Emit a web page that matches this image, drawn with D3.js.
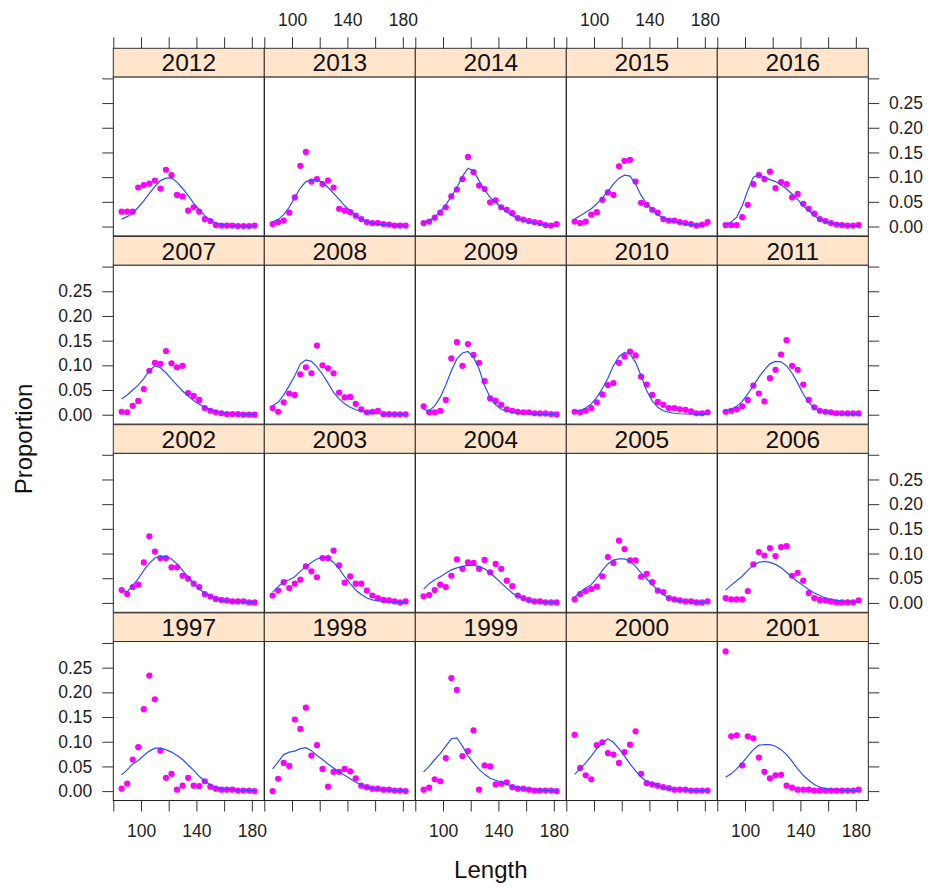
<!DOCTYPE html>
<html>
<head>
<meta charset="utf-8">
<script src="https://cdn.jsdelivr.net/npm/d3@7"></script>
<style>
  html, body { margin: 0; padding: 0; background: #fff; }
  svg { display: block; }
  text { font-family: "Liberation Sans", Arial, Helvetica, sans-serif; }
</style>
</head>
<body>
<svg id="chart" width="930" height="889"></svg>
<script>
// Length bins (mid-points, cm)
const lengths = [86, 90, 94, 98, 102, 106, 110, 114, 118, 122, 126, 130, 134,
                 138, 142, 146, 150, 154, 158, 162, 166, 170, 174, 178, 182];

// Panel order, top row first
const panelRows = [
  [2012, 2013, 2014, 2015, 2016],
  [2007, 2008, 2009, 2010, 2011],
  [2002, 2003, 2004, 2005, 2006],
  [1997, 1998, 1999, 2000, 2001]
];

const xTicks = [80, 100, 120, 140, 160, 180];
const xLabelled = [100, 140, 180];
const yTicks = [0, 0.05, 0.10, 0.15, 0.20, 0.25, 0.30];
const yLabelled = [0, 0.05, 0.10, 0.15, 0.20, 0.25];

// Observed proportions at length
const obs1997 = [0.005,0.015,0.064,0.089,0.166,0.234,0.186,0.082,0.027,0.035,0.003,0.011,0.027,0.011,0.010,0.020,0.009,0.005,0.003,0.003,0.003,0.001,0.001,0.001,0.000];
const obs1998 = [0.000,0.025,0.057,0.051,0.145,0.126,0.169,0.072,0.093,0.045,0.009,0.039,0.039,0.045,0.040,0.026,0.011,0.008,0.005,0.005,0.003,0.003,0.001,0.001,0.000];
const obs1999 = [0.003,0.007,0.024,0.020,0.067,0.229,0.205,0.071,0.081,0.123,0.003,0.052,0.050,0.0135,0.015,0.018,0.008,0.005,0.005,0.003,0.001,0.001,0.001,0.001,0.000];
const obs2000 = [0.114,0.047,0.032,0.024,0.093,0.099,0.077,0.074,0.057,0.079,0.094,0.121,0.035,0.016,0.0135,0.011,0.008,0.006,0.003,0.003,0.003,0.001,0.001,0.001,0.001];
const obs2001 = [0.283,0.111,0.113,0.052,0.111,0.107,0.068,0.039,0.026,0.032,0.033,0.011,0.007,0.003,0.003,0.003,0.001,0.001,0.001,0.001,0.001,0.001,0.001,0.001,0.003];
const obs2002 = [0.026,0.018,0.032,0.037,0.082,0.135,0.104,0.091,0.091,0.072,0.072,0.055,0.049,0.039,0.032,0.018,0.013,0.008,0.006,0.005,0.003,0.003,0.003,0.001,0.001];
const obs2003 = [0.015,0.025,0.042,0.030,0.039,0.047,0.074,0.064,0.052,0.091,0.091,0.106,0.076,0.041,0.054,0.039,0.039,0.025,0.015,0.010,0.006,0.005,0.003,0.001,0.003];
const obs2004 = [0.0135,0.016,0.026,0.037,0.032,0.055,0.088,0.069,0.082,0.081,0.069,0.087,0.062,0.079,0.069,0.045,0.034,0.015,0.010,0.006,0.003,0.003,0.001,0.001,0.001];
const obs2005 = [0.007,0.018,0.024,0.028,0.033,0.054,0.093,0.081,0.126,0.109,0.086,0.086,0.053,0.059,0.042,0.025,0.022,0.010,0.007,0.005,0.003,0.003,0.001,0.001,0.003];
const obs2006 = [0.010,0.007,0.007,0.007,0.024,0.078,0.103,0.096,0.111,0.095,0.113,0.115,0.055,0.061,0.045,0.020,0.010,0.006,0.005,0.003,0.001,0.001,0.001,0.001,0.005];
const obs2007 = [0.006,0.005,0.018,0.028,0.052,0.089,0.105,0.103,0.129,0.104,0.096,0.099,0.044,0.038,0.030,0.0135,0.008,0.005,0.003,0.0015,0.0015,0.001,0.000,0.000,0.000];
const obs2008 = [0.0135,0.006,0.025,0.043,0.040,0.082,0.096,0.084,0.140,0.100,0.094,0.084,0.045,0.035,0.036,0.022,0.011,0.005,0.006,0.008,0.001,0.001,0.0007,0.0007,0.0007];
const obs2009 = [0.017,0.005,0.005,0.008,0.030,0.114,0.147,0.099,0.143,0.121,0.105,0.068,0.033,0.028,0.020,0.011,0.008,0.006,0.005,0.005,0.003,0.0027,0.0027,0.0013,0.0007];
const obs2010 = [0.006,0.005,0.008,0.0135,0.025,0.041,0.060,0.064,0.105,0.118,0.128,0.120,0.077,0.061,0.040,0.026,0.020,0.0135,0.0135,0.011,0.010,0.007,0.003,0.003,0.005];
const obs2011 = [0.006,0.008,0.011,0.017,0.030,0.059,0.043,0.027,0.074,0.091,0.122,0.151,0.099,0.091,0.061,0.030,0.015,0.008,0.006,0.005,0.003,0.003,0.0027,0.0027,0.0027];
const obs2012 = [0.030,0.030,0.030,0.079,0.084,0.087,0.093,0.077,0.115,0.104,0.064,0.061,0.032,0.039,0.030,0.015,0.011,0.003,0.002,0.002,0.002,0.001,0.001,0.001,0.002];
const obs2013 = [0.005,0.009,0.012,0.028,0.059,0.123,0.151,0.091,0.096,0.086,0.093,0.079,0.036,0.032,0.029,0.022,0.015,0.009,0.007,0.007,0.005,0.004,0.002,0.002,0.002];
const obs2014 = [0.007,0.010,0.018,0.028,0.039,0.061,0.075,0.096,0.141,0.110,0.083,0.076,0.049,0.053,0.039,0.034,0.027,0.017,0.014,0.011,0.009,0.007,0.003,0.002,0.005];
const obs2015 = [0.010,0.007,0.010,0.024,0.029,0.054,0.069,0.064,0.122,0.133,0.135,0.091,0.048,0.044,0.034,0.028,0.015,0.012,0.012,0.009,0.007,0.005,0.002,0.004,0.009];
const obs2016 = [0.003,0.003,0.003,0.019,0.044,0.086,0.104,0.096,0.111,0.078,0.090,0.086,0.059,0.066,0.046,0.036,0.026,0.015,0.011,0.007,0.004,0.003,0.002,0.002,0.003];

// Fitted proportions at length
const fit1997 = [0.033,0.043,0.055,0.062,0.072,0.081,0.087,0.087,0.084,0.079,0.072,0.064,0.053,0.042,0.030,0.020,0.013,0.008,0.005,0.004,0.003,0.002,0.0015,0.001,0.001];
const fit1998 = [0.045,0.059,0.074,0.079,0.081,0.086,0.088,0.082,0.072,0.064,0.055,0.047,0.039,0.032,0.025,0.018,0.013,0.008,0.005,0.004,0.003,0.002,0.0015,0.001,0.001];
const fit1999 = [0.039,0.050,0.064,0.076,0.091,0.106,0.108,0.091,0.072,0.057,0.044,0.034,0.026,0.022,0.018,0.0135,0.010,0.007,0.005,0.0035,0.003,0.002,0.0015,0.001,0.001];
const fit2000 = [0.034,0.045,0.057,0.071,0.086,0.097,0.106,0.099,0.086,0.071,0.055,0.041,0.028,0.020,0.015,0.011,0.007,0.005,0.0035,0.003,0.002,0.0015,0.001,0.001,0.001];
const fit2001 = [0.028,0.035,0.045,0.057,0.071,0.084,0.093,0.094,0.094,0.091,0.084,0.074,0.060,0.045,0.032,0.022,0.0135,0.008,0.005,0.004,0.003,0.002,0.0015,0.001,0.001];
const fit2002 = [0.025,0.023,0.035,0.049,0.066,0.080,0.091,0.094,0.094,0.089,0.079,0.066,0.052,0.040,0.028,0.020,0.0135,0.008,0.005,0.0035,0.003,0.002,0.0015,0.001,0.001];
const fit2003 = [0.022,0.033,0.043,0.047,0.053,0.064,0.074,0.082,0.089,0.093,0.091,0.082,0.069,0.053,0.039,0.026,0.017,0.010,0.006,0.004,0.003,0.002,0.0015,0.001,0.001];
const fit2004 = [0.028,0.039,0.047,0.053,0.060,0.067,0.071,0.074,0.076,0.076,0.074,0.069,0.061,0.051,0.040,0.030,0.020,0.0135,0.008,0.005,0.003,0.002,0.0015,0.001,0.001];
const fit2005 = [0.011,0.022,0.030,0.037,0.050,0.066,0.079,0.087,0.089,0.089,0.084,0.074,0.061,0.049,0.037,0.026,0.017,0.010,0.006,0.004,0.003,0.002,0.0015,0.001,0.001];
const fit2006 = [0.026,0.036,0.045,0.054,0.066,0.077,0.082,0.084,0.082,0.078,0.071,0.062,0.052,0.043,0.035,0.027,0.020,0.015,0.010,0.007,0.005,0.0035,0.003,0.002,0.0015];
const fit2007 = [0.032,0.040,0.050,0.060,0.073,0.089,0.099,0.095,0.085,0.072,0.060,0.048,0.038,0.029,0.021,0.015,0.010,0.007,0.005,0.003,0.002,0.0015,0.001,0.001,0.0005];
const fit2008 = [0.018,0.025,0.040,0.059,0.079,0.103,0.111,0.108,0.097,0.082,0.064,0.045,0.032,0.022,0.015,0.010,0.007,0.005,0.003,0.002,0.0015,0.001,0.001,0.0005,0.0005];
const fit2009 = [0.011,0.008,0.018,0.035,0.060,0.089,0.113,0.125,0.128,0.116,0.093,0.059,0.035,0.020,0.011,0.007,0.005,0.003,0.002,0.0015,0.001,0.001,0.0008,0.0005,0.0005];
const fit2010 = [0.007,0.008,0.0135,0.022,0.035,0.053,0.074,0.099,0.118,0.126,0.123,0.106,0.079,0.049,0.028,0.015,0.008,0.005,0.003,0.002,0.0015,0.001,0.001,0.0005,0.0005];
const fit2011 = [0.008,0.011,0.017,0.027,0.042,0.059,0.076,0.091,0.103,0.108,0.107,0.099,0.084,0.064,0.042,0.025,0.0135,0.008,0.005,0.003,0.002,0.0015,0.001,0.001,0.0005];
const fit2012 = [0.015,0.020,0.027,0.039,0.052,0.067,0.081,0.093,0.098,0.098,0.090,0.077,0.063,0.047,0.034,0.022,0.013,0.007,0.004,0.002,0.0015,0.001,0.001,0.0005,0.0005];
const fit2013 = [0.009,0.014,0.024,0.039,0.059,0.078,0.091,0.094,0.094,0.090,0.079,0.067,0.055,0.042,0.032,0.022,0.015,0.010,0.007,0.005,0.004,0.003,0.002,0.0015,0.001];
const fit2014 = [0.007,0.012,0.019,0.030,0.044,0.061,0.079,0.101,0.118,0.113,0.093,0.074,0.059,0.049,0.039,0.030,0.022,0.017,0.012,0.009,0.007,0.005,0.003,0.002,0.0015];
const fit2015 = [0.015,0.022,0.029,0.036,0.046,0.058,0.071,0.086,0.098,0.104,0.102,0.086,0.063,0.046,0.034,0.024,0.017,0.013,0.010,0.007,0.005,0.004,0.003,0.002,0.0015];
const fit2016 = [0.005,0.009,0.019,0.042,0.073,0.100,0.105,0.100,0.095,0.091,0.084,0.076,0.066,0.055,0.042,0.032,0.022,0.015,0.010,0.007,0.005,0.003,0.002,0.0015,0.0015];

const observed = {
  1997: obs1997, 1998: obs1998, 1999: obs1999, 2000: obs2000, 2001: obs2001,
  2002: obs2002, 2003: obs2003, 2004: obs2004, 2005: obs2005, 2006: obs2006,
  2007: obs2007, 2008: obs2008, 2009: obs2009, 2010: obs2010, 2011: obs2011,
  2012: obs2012, 2013: obs2013, 2014: obs2014, 2015: obs2015, 2016: obs2016
};
const fitted = {
  1997: fit1997, 1998: fit1998, 1999: fit1999, 2000: fit2000, 2001: fit2001,
  2002: fit2002, 2003: fit2003, 2004: fit2004, 2005: fit2005, 2006: fit2006,
  2007: fit2007, 2008: fit2008, 2009: fit2009, 2010: fit2010, 2011: fit2011,
  2012: fit2012, 2013: fit2013, 2014: fit2014, 2015: fit2015, 2016: fit2016
};

// ---- layout ----
const gridLeft = 113.3, colW = 151;
const gridTop = 48.3, rowPitch = 188.2, stripH = 28.6, panelH = 159;
const nCols = 5, nRows = 4;
const gridRight = gridLeft + nCols * colW;
const tickLen = 11;
const tickFont = 17.5;

const svg = d3.select("#chart");
svg.append("rect").attr("width", 930).attr("height", 889).attr("fill", "#fff");

const x = d3.scaleLinear().domain([80, 189]).range([0, colW]);
const y = d3.scaleLinear().domain([-0.019, 0.303]).range([panelH, 0]);

const fitLine = d3.line()
  .x((d, i) => x(lengths[i]))
  .y(d => y(d))
  .curve(d3.curveLinear);

const fmtX = d => xLabelled.includes(d) ? String(d) : "";
const fmtY = d => yLabelled.some(v => Math.abs(v - d) < 1e-9) ? d3.format(".2f")(d) : "";
const noLabel = () => "";

panelRows.forEach((row, r) => {
  const rowTop = gridTop + r * rowPitch;
  const panelTop = rowTop + stripH;
  row.forEach((year, c) => {
    const gx = gridLeft + c * colW;
    const g = svg.append("g").attr("transform", `translate(${gx},${panelTop})`);

    // clip region for the panel contents
    const clipId = "clip" + year;
    g.append("clipPath").attr("id", clipId)
      .append("rect").attr("width", colW).attr("height", panelH);

    const body = g.append("g").attr("clip-path", `url(#${clipId})`);

    body.selectAll("circle")
      .data(observed[year])
      .join("circle")
      .attr("cx", (d, i) => x(lengths[i]))
      .attr("cy", d => y(d))
      .attr("r", 3.1)
      .attr("fill", "#ff00ff");

    body.append("path")
      .datum(fitted[year])
      .attr("d", fitLine)
      .attr("fill", "none")
      .attr("stroke", "#2f4fff")
      .attr("stroke-width", 1.2);

    g.append("rect")
      .attr("width", colW).attr("height", panelH)
      .attr("fill", "none").attr("stroke", "#222").attr("stroke-width", 1);

    // strip
    const s = svg.append("g").attr("transform", `translate(${gx},${rowTop})`);
    s.append("rect")
      .attr("width", colW).attr("height", stripH)
      .attr("fill", "#ffe5cc").attr("stroke", "#333").attr("stroke-width", 1);
    s.append("text")
      .attr("x", colW / 2).attr("y", stripH / 2)
      .attr("dy", "0.36em")
      .attr("text-anchor", "middle")
      .attr("font-size", 24.5)
      .attr("fill", "#111")
      .text(year);
  });

  // left axis
  const la = svg.append("g")
    .attr("transform", `translate(${gridLeft},${panelTop})`)
    .call(d3.axisLeft(y).tickValues(yTicks).tickSize(tickLen).tickPadding(10)
      .tickFormat(r % 2 === 1 ? fmtY : noLabel));
  // right axis
  const ra = svg.append("g")
    .attr("transform", `translate(${gridRight},${panelTop})`)
    .call(d3.axisRight(y).tickValues(yTicks).tickSize(tickLen).tickPadding(9.7)
      .tickFormat(r % 2 === 0 ? fmtY : noLabel));
  [la, ra].forEach(a => a.select(".domain").remove());
});

// top and bottom axes per column
const bottomY = gridTop + (nRows - 1) * rowPitch + stripH + panelH;
for (let c = 0; c < nCols; c++) {
  const gx = gridLeft + c * colW;
  const ta = svg.append("g")
    .attr("transform", `translate(${gx},${gridTop})`)
    .call(d3.axisTop(x).tickValues(xTicks).tickSize(tickLen).tickPadding(11)
      .tickFormat(c % 2 === 1 ? fmtX : noLabel));
  const ba = svg.append("g")
    .attr("transform", `translate(${gx},${bottomY})`)
    .call(d3.axisBottom(x).tickValues(xTicks).tickSize(tickLen).tickPadding(13)
      .tickFormat(c % 2 === 0 ? fmtX : noLabel));
  [ta, ba].forEach(a => a.select(".domain").remove());
}

svg.selectAll(".tick line").attr("stroke", "#333").attr("stroke-width", 1);
svg.selectAll(".tick text")
  .attr("font-family", "Liberation Sans, Arial, sans-serif")
  .attr("font-size", tickFont)
  .attr("fill", "#222");

// axis titles
svg.append("text")
  .attr("x", (gridLeft + gridRight) / 2).attr("y", 878.3)
  .attr("text-anchor", "middle")
  .attr("font-size", 24)
  .attr("fill", "#111")
  .text("Length");

svg.append("text")
  .attr("transform", "translate(31.7,439) rotate(-90)")
  .attr("text-anchor", "middle")
  .attr("font-size", 24)
  .attr("fill", "#111")
  .text("Proportion");
</script>
</body>
</html>
